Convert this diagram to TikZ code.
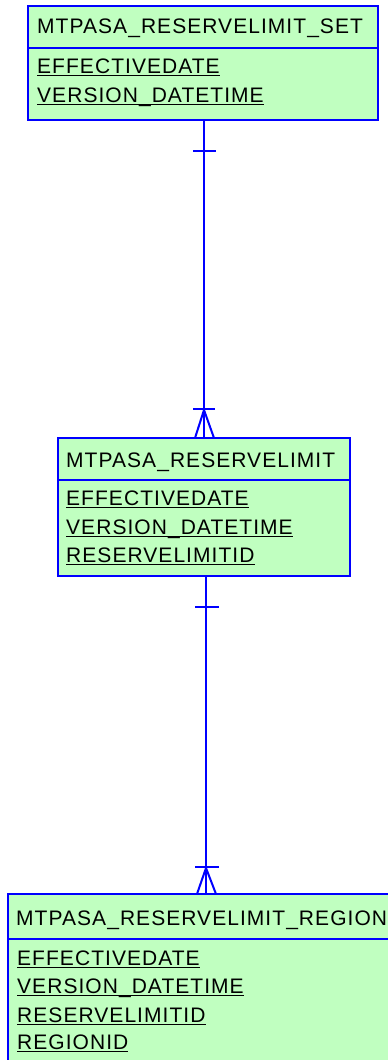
\documentclass[tikz,border=0pt]{standalone}
\usepackage{fontspec}
\setmainfont{Liberation Sans}[LetterSpace=5]
\definecolor{entfill}{RGB}{192,255,192}
\definecolor{entline}{RGB}{0,0,255}
\newcommand\myul[1]{\setbox0\hbox{#1}\rlap{\rule[-3pt]{\wd0}{1.3pt}}\box0}
\tikzset{
  entity/.style={draw=entline, fill=entfill, line width=2pt, rectangle, inner sep=0pt},
  sepline/.style={draw=entline, line width=2pt},
  txt/.style={anchor=base west, inner sep=0pt, font=\fontsize{21pt}{24pt}\selectfont, text=black},
  conn/.style={draw=entline, line width=2pt},
}
\begin{document}
\begin{tikzpicture}[x=1pt,y=-1pt]
\useasboundingbox (0,0) rectangle (388,1060);
\clip (0,0) rectangle (388,1060);
% entities
\node[entity, minimum width=350pt, minimum height=114pt] (e1) at (203,63) {};
\node[entity, minimum width=292pt, minimum height=138pt] (e2) at (204,507) {};
\node[entity, minimum width=400pt, minimum height=200pt] (e3) at (208,994) {};
% header separators
\draw[sepline] (e1.west |- 0,48) -- (e1.east |- 0,48);
\draw[sepline] (e2.west |- 0,480) -- (e2.east |- 0,480);
\draw[sepline] (e3.west |- 0,939) -- (e3.east |- 0,939);
% texts
\node[txt] (t1) at (37,33) {MTPASA\_RESERVELIMIT\_SET};
\node[txt] (f11) at (37,73) {\myul{EFFECTIVEDATE}};
\node[txt] (f12) at (37,102) {\myul{VERSION\_DATETIME}};
\node[txt] (t2) at (66,467) {MTPASA\_RESERVELIMIT};
\node[txt] (f21) at (66,505) {\myul{EFFECTIVEDATE}};
\node[txt] (f22) at (66,534) {\myul{VERSION\_DATETIME}};
\node[txt] (f23) at (66,562) {\myul{RESERVELIMITID}};
\node[txt] (t3) at (16,925) {MTPASA\_RESERVELIMIT\_REGION};
\node[txt] (f31) at (17,965) {\myul{EFFECTIVEDATE}};
\node[txt] (f32) at (17,993) {\myul{VERSION\_DATETIME}};
\node[txt] (f33) at (17,1022) {\myul{RESERVELIMITID}};
\node[txt] (f34) at (17,1049) {\myul{REGIONID}};
% connector 1
\coordinate (a1) at (204,120);
\coordinate (b1) at (204,438);
\draw[conn] (a1) -- (b1);
\draw[conn] ([xshift=-11pt,yshift=-31pt]a1) -- ([xshift=12pt,yshift=-31pt]a1);
\draw[conn] ([xshift=-11pt,yshift=29pt]b1) -- ([xshift=11pt,yshift=29pt]b1);
\draw[conn] ([xshift=-9pt]b1) -- ([yshift=28pt]b1) -- ([xshift=10pt]b1);
% connector 2
\coordinate (a2) at (206,576);
\coordinate (b2) at (206,894);
\draw[conn] (a2) -- (b2);
\draw[conn] ([xshift=-11pt,yshift=-31pt]a2) -- ([xshift=13pt,yshift=-31pt]a2);
\draw[conn] ([xshift=-11pt,yshift=27pt]b2) -- ([xshift=13pt,yshift=27pt]b2);
\draw[conn] ([xshift=-9pt]b2) -- ([yshift=26pt]b2) -- ([xshift=10pt]b2);
\end{tikzpicture}
\end{document}
